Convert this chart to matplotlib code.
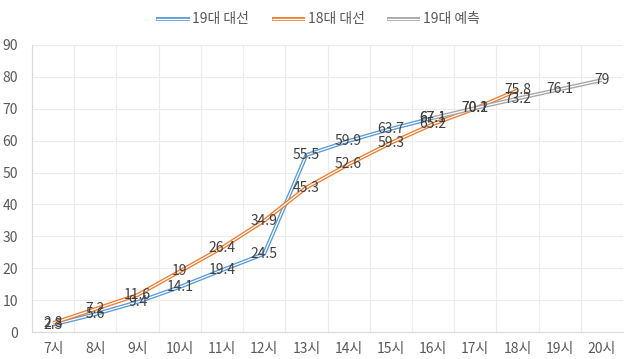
import numpy as np
import matplotlib
matplotlib.use("Agg")
import matplotlib.pyplot as plt
import matplotlib.patheffects as pe

plt.rcParams['font.family'] = ['Noto Sans CJK KR', 'DejaVu Sans']

# categories and series
hours = ['7시', '8시', '9시', '10시', '11시', '12시', '13시', '14시',
         '15시', '16시', '17시', '18시', '19시', '20시']
turnout_19 = [2.3, 5.6, 9.4, 14.1, 19.4, 24.5, 55.5, 59.9, 63.7, 67.1]
turnout_18 = [2.8, 7.2, 11.6, 19, 26.4, 34.9, 45.3, 52.6, 59.3, 65.2, 70.1, 75.8]
forecast_19 = [67.1, 70.2, 73.2, 76.1, 79]
forecast_start = 9  # index of 16시

series = [
    ('19대 대선', np.arange(len(turnout_19)), turnout_19, '#5b9bd5'),
    ('18대 대선', np.arange(len(turnout_18)), turnout_18, '#ed7d31'),
    ('19대 예측', np.arange(len(forecast_19)) + forecast_start, forecast_19, '#a5a5a5'),
]

fig = plt.figure(figsize=(6.36, 3.59), dpi=100)
ax = fig.add_axes([32 / 636, 27 / 359, 591 / 636, 287 / 359])

# double line look: coloured outer stroke, white core
for name, xs, ys, color in series:
    ax.plot(xs, ys, color='white', lw=0.9, label=name, solid_capstyle='butt',
            path_effects=[pe.Stroke(linewidth=2.8, foreground=color), pe.Normal()])

for name, xs, ys, color in series:
    for x, y in zip(xs, ys):
        ax.text(x, y, f'{y:g}', ha='center', va='center', fontsize=10,
                color='#404040')

ax.set_xlim(-0.5, len(hours) - 0.5)
ax.set_ylim(0, 90)
ax.set_yticks(range(0, 91, 10))
ax.set_xticks(range(len(hours)))
ax.set_xticklabels(hours)
ax.set_xticks(np.arange(-0.5, len(hours), 1), minor=True)

ax.grid(True, axis='y', which='major', color='#ececec', lw=0.8)
ax.grid(True, axis='x', which='minor', color='#ececec', lw=0.8)
ax.set_axisbelow(True)

ax.tick_params(which='both', length=0, colors='#595959', labelsize=10)
ax.tick_params(axis='x', pad=7)
ax.tick_params(axis='y', pad=10)
for side in ['top', 'right']:
    ax.spines[side].set_visible(False)
for side in ['left', 'bottom']:
    ax.spines[side].set_color('#d9d9d9')

leg = fig.legend(loc='upper center', bbox_to_anchor=(0.5, 1.0), ncol=3,
                 frameon=False, fontsize=10, handlelength=2.4,
                 columnspacing=1.6, handletextpad=0.2)
for t in leg.get_texts():
    t.set_color('#595959')

fig.savefig('out.png', dpi=100)
